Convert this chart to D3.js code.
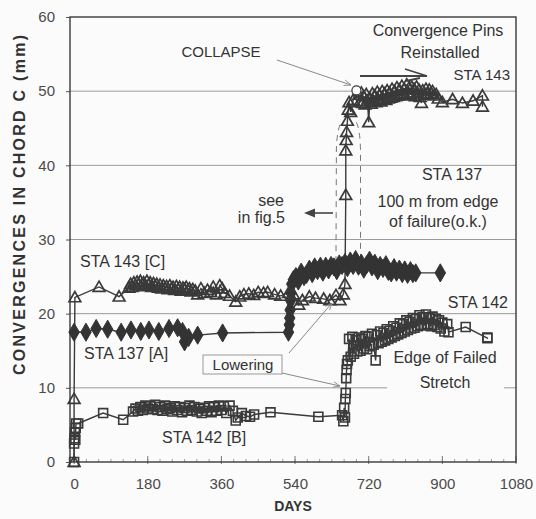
<!DOCTYPE html>
<html><head><meta charset="utf-8">
<script src="https://cdn.jsdelivr.net/npm/d3@7"></script>
<style>
body{margin:0;background:#fbfbfb}
svg{display:block}
text{font-family:"Liberation Sans",Arial,Helvetica,sans-serif}
</style>
</head><body><svg id="c" width="536" height="519"></svg>
<script>
// ---------- DATA ----------
const xTicks = [0, 180, 360, 540, 720, 900, 1080];
const yTicks = [0, 10, 20, 30, 40, 50, 60];

// STA 143 [C] (open triangles)
const sta143Days = [0,0,2,61,110,134,138,142,146,150,154,158,162,166,170,174,178,182,186,190,194,198,202,206,210,214,218,222,226,230,234,238,242,246,250,254,258,262,266,270,274,278,282,286,290,296,302,310,318,326,334,340,348,356,362,368,380,395,405,415,427,439,450,463,473,490,505,524,536,549,558,575,590,610,625,640,650,658,662,664,664,665,666,668,670,672,676,682,
  696,699,702,705,708,711,714,717,720,723,726,729,732,735,738,741,744,747,750,753,756,759,762,765,768,771,774,777,780,783,786,789,792,795,798,801,804,807,810,813,816,819,822,825,828,831,834,837,840,843,846,849,852,856,860,864,868,872,876,880,885,890,900,925,949,975,998,998];
const sta143Vals = [0,8.5,22.2,23.6,22.3,23.5,24.0,23.6,24.2,23.8,24.3,23.9,24.4,24.0,24.2,23.7,24.4,23.9,24.2,23.6,24.1,23.7,24.0,23.5,23.9,23.4,23.8,23.5,23.7,23.3,23.8,23.4,23.6,23.2,23.7,23.3,23.6,23.1,23.5,23.3,23.6,23.2,23.4,23.0,23.3,23.1,22.6,23.4,22.8,23.2,22.9,23.6,22.6,23.8,23.4,22.8,22.4,21.6,22.3,22.6,22.7,22.5,22.9,22.8,22.9,22.6,22.4,22.8,22.6,21.2,21.8,22.3,22.1,22.0,21.8,22.5,21.8,22.6,24.0,36.0,42.0,43.4,44.5,46.0,47.5,48.5,47.2,48.8,
  49.5,48.6,49.8,48.4,49.3,48.2,49.6,48.7,45.8,49.0,48.3,49.7,48.6,49.4,48.5,49.9,48.8,49.5,48.6,50.0,48.9,49.7,48.8,50.1,49.0,49.8,49.1,50.3,49.2,50.0,49.3,50.5,49.4,50.2,49.5,50.7,49.6,50.3,49.4,50.9,49.7,50.5,49.5,50.6,49.8,50.3,49.3,50.6,49.7,50.2,49.2,48.4,50.1,49.5,50.3,49.6,50.2,49.7,50.0,49.4,49.6,49.0,48.5,48.9,48.4,48.7,49.4,47.9];

// STA 137 [A] (filled diamonds)
const sta137Days = [0,29,54,82,115,139,163,183,207,232,253,265,270,280,302,363,524,526,527,528,529,530,532,536,542,548,555,562,568,575,582,588,595,602,608,615,622,628,635,642,648,655,662,668,675,682,688,695,702,708,715,722,728,735,742,748,755,762,768,775,782,788,795,802,808,815,822,828,835,895];
const sta137Vals = [17.5,17.5,18.0,17.9,17.5,17.8,17.6,17.8,17.6,18.0,18.1,17.6,16.2,16.8,17.1,17.4,17.5,18.5,19.4,20.5,21.8,22.8,24.0,24.6,25.0,24.4,25.6,25.0,25.3,26.0,25.4,26.3,25.8,26.4,25.6,26.4,25.9,26.5,26.3,25.8,26.7,26.5,26.9,26.2,27.1,26.5,27.3,26.4,26.8,26.0,26.6,27.2,26.3,26.8,25.8,26.5,26.1,26.6,25.7,25.5,26.2,25.6,26.0,25.4,25.9,25.3,25.8,25.4,25.5,25.5];

// STA 142 [B] (open squares)
const sta142Days = [0,0,1,2,3,4,5,10,71,120,144,150,156,162,168,174,180,186,192,198,204,210,216,222,228,234,240,246,252,258,264,270,276,282,288,294,300,306,312,318,324,330,336,342,348,354,360,366,372,380,388,395,400,410,420,430,440,480,597,655,658,660,662,663,664,665,666,667,669,
  672,676,680,684,688,692,696,700,704,708,712,716,720,724,728,732,737,740,744,748,752,756,760,764,768,772,776,780,784,788,792,796,800,804,808,812,816,820,824,828,832,836,840,844,848,852,856,860,864,868,872,876,880,884,888,892,896,900,905,912,915,957,1010,1010];
const sta142Vals = [0,2.5,3.2,4.0,3.0,4.6,5.2,5.2,6.6,5.7,6.8,7.2,6.9,7.4,7.0,7.6,7.2,7.5,7.1,7.7,7.0,7.4,6.9,7.6,7.1,7.3,6.8,7.5,7.0,7.4,6.7,7.3,6.9,7.6,7.0,7.4,6.8,7.2,6.6,7.3,6.9,7.5,6.7,7.4,6.9,7.6,7.0,7.5,6.6,7.6,6.9,5.6,6.0,6.6,6.2,6.1,6.4,6.7,6.1,6.3,5.5,7.3,6.0,8.5,9.3,11.3,12.4,13.2,13.7,
  16.6,14.2,16.9,14.6,16.4,14.9,16.8,15.0,16.6,15.3,17.0,15.2,16.9,15.6,17.3,15.8,13.7,17.1,16.0,17.6,16.2,17.4,16.4,17.9,16.6,17.7,16.8,18.3,17.0,18.1,17.2,18.7,17.4,18.6,17.6,19.1,17.8,18.9,18.0,19.4,18.1,19.3,18.3,19.8,18.5,19.5,18.4,19.9,18.6,19.4,18.3,19.6,18.5,19.3,18.2,19.1,18.0,18.8,17.6,18.6,17.5,18.2,16.7,16.8,17.0,17.8];

// Collapse point
const collapseDay = 690, collapseVal = 50.1;

// ---------- CHART ----------
const svg = d3.select("#c");
const W = 536, H = 519;
const bg = "#fbfbfb";
svg.append("rect").attr("width", W).attr("height", H).attr("fill", bg);
const L = 70, R = 516, T = 17, B = 462;
const x = d3.scaleLinear().domain([-10, 1080]).range([L, R]);
const y = d3.scaleLinear().domain([0, 60]).range([B, T]);
const ink = "#3a3a3a";

// gridlines
svg.append("g").selectAll("line").data(yTicks.filter(v => v > 0 && v < 60)).join("line")
  .attr("x1", L).attr("x2", R).attr("y1", d => y(d)).attr("y2", d => y(d))
  .attr("stroke", "#9a9a9a").attr("stroke-width", 1);

// dashed bracket lines
svg.append("path").attr("d", `M${x(650)},${y(45.5)} Q${x(640)},${y(44)} ${x(641)},${y(41)} L${x(640)},${y(26.5)}`)
  .attr("fill", "none").attr("stroke", "#777").attr("stroke-width", 1).attr("stroke-dasharray", "6,5");
svg.append("path").attr("d", `M${x(690)},${y(45.8)} Q${x(699)},${y(44.8)} ${x(700)},${y(42)} L${x(700)},${y(27.5)}`)
  .attr("fill", "none").attr("stroke", "#777").attr("stroke-width", 1).attr("stroke-dasharray", "6,5");

// axes
const xAxis = d3.axisBottom(x).tickValues(xTicks).tickSize(0).tickPadding(16).tickFormat(d3.format("d"));
const gx = svg.append("g").attr("transform", `translate(0,${B})`).call(xAxis);
gx.select(".domain").remove();
gx.selectAll("text").attr("font-size", 15).attr("fill", "#4a4a4a").attr("font-family", "Liberation Sans, Arial, sans-serif");
svg.append("g").selectAll("line").data(xTicks).join("line")
  .attr("x1", d => x(d)).attr("x2", d => x(d)).attr("y1", B - 6).attr("y2", B + 2)
  .attr("stroke", "#777").attr("stroke-width", 1);
svg.append("g").selectAll("line").data(d3.range(30, 1080, 30)).join("line")
  .attr("x1", d => x(d)).attr("x2", d => x(d)).attr("y1", B - 3).attr("y2", B)
  .attr("stroke", "#888").attr("stroke-width", 0.8);

const yAxis = d3.axisLeft(y).tickValues(yTicks).tickSize(4).tickPadding(11).tickFormat(d3.format("d"));
const gy = svg.append("g").attr("transform", `translate(${L},0)`).call(yAxis);
gy.select(".domain").remove();
gy.selectAll("line").attr("stroke", "#555");
gy.selectAll("text").attr("font-size", 15).attr("fill", "#4a4a4a").attr("font-family", "Liberation Sans, Arial, sans-serif");

// frame
svg.append("rect").attr("x", L).attr("y", T).attr("width", R - L).attr("height", B - T)
  .attr("fill", "none").attr("stroke", ink).attr("stroke-width", 1.4);

function series(days, vals) { return days.map((d, i) => [d, vals[i]]); }
const line = d3.line().x(d => x(d[0])).y(d => y(d[1]));

const s142 = series(sta142Days, sta142Vals);
const s137 = series(sta137Days, sta137Vals);
const s143 = series(sta143Days, sta143Vals);

[s142, s137, s143].forEach(s => {
  svg.append("path").datum(s).attr("d", line).attr("fill", "none").attr("stroke", ink).attr("stroke-width", 1.4);
});

// markers (open markers drawn unfilled, as in the scan)
svg.append("g").selectAll("path").data(s142).join("path")
  .attr("d", d3.symbol().type(d3.symbolSquare).size(80))
  .attr("transform", d => `translate(${x(d[0])},${y(d[1])})`)
  .attr("fill", "none").attr("stroke", ink).attr("stroke-width", 1.6);
svg.append("g").selectAll("path").data(s137).join("path")
  .attr("d", d3.symbol().type(d3.symbolDiamond).size(95))
  .attr("transform", d => `translate(${x(d[0])},${y(d[1])})`)
  .attr("fill", "#333").attr("stroke", "#333").attr("stroke-width", 1);
svg.append("g").selectAll("path").data(s143).join("path")
  .attr("d", d3.symbol().type(d3.symbolTriangle).size(60))
  .attr("transform", d => `translate(${x(d[0])},${y(d[1]) + 1})`)
  .attr("fill", "none").attr("stroke", ink).attr("stroke-width", 1.7);

// collapse circle
svg.append("circle").attr("cx", x(collapseDay)).attr("cy", y(collapseVal)).attr("r", 4.5)
  .attr("fill", bg).attr("stroke", ink).attr("stroke-width", 1.2);

// ---------- ANNOTATIONS ----------
const defs = svg.append("defs");
defs.append("marker").attr("id", "ah").attr("viewBox", "0 0 10 10").attr("refX", 10).attr("refY", 5)
  .attr("markerWidth", 7).attr("markerHeight", 7).attr("orient", "auto")
  .append("path").attr("d", "M0,1 L10,5 L0,9").attr("fill", "none").attr("stroke", "#888").attr("stroke-width", 1.2);

function txt(t, px, py, opts = {}) {
  return svg.append("text").attr("x", px).attr("y", py).text(t)
    .attr("font-size", opts.size || 16).attr("fill", opts.fill || "#333")
    .attr("text-anchor", opts.anchor || "start").attr("font-weight", opts.weight || "normal");
}

txt("COLLAPSE", 221, 57, { size: 15, anchor: "middle" });
svg.append("line").attr("x1", 277).attr("y1", 60).attr("x2", 351).attr("y2", 85)
  .attr("stroke", "#888").attr("stroke-width", 1).attr("marker-end", "url(#ah)");

txt("Convergence Pins", 438, 36, { anchor: "middle" });
txt("Reinstalled", 440, 58, { anchor: "middle" });
svg.append("path").attr("d", "M360,76 L427,76 M405,69 L427,76 M406,81 L420,78")
  .attr("fill", "none").attr("stroke", "#444").attr("stroke-width", 1.8);
txt("STA 143", 510, 80, { size: 15, anchor: "end" });

txt("STA 137", 452, 180, { anchor: "middle" });
txt("100 m from edge", 438, 207, { anchor: "middle" });
txt("of failure(o.k.)", 438, 227, { anchor: "middle" });

txt("see", 284, 206, { anchor: "end" });
txt("in fig.5", 285, 223, { anchor: "end" });
svg.append("line").attr("x1", 333).attr("y1", 213).attr("x2", 313).attr("y2", 213).attr("stroke", "#444").attr("stroke-width", 1.6);
svg.append("path").attr("d", "M304,213 L315,208.5 L315,217.5 Z").attr("fill", "#444");

txt("STA 143 [C]", 80, 267);
txt("STA 137 [A]", 84, 359);
txt("STA 142 [B]", 162, 443);
txt("STA 142", 508, 308, { anchor: "end" });

svg.append("rect").attr("x", 387).attr("y", 372).attr("width", 117).attr("height", 22).attr("fill", bg);
txt("Edge of Failed", 445, 363, { anchor: "middle" });
txt("Stretch", 445, 388, { anchor: "middle" });

svg.append("line").attr("x1", 289).attr("y1", 353).attr("x2", 332).attr("y2", 303)
  .attr("stroke", "#888").attr("stroke-width", 1).attr("marker-end", "url(#ah)");
svg.append("line").attr("x1", 282).attr("y1", 373).attr("x2", 340).attr("y2", 386)
  .attr("stroke", "#888").attr("stroke-width", 1).attr("marker-end", "url(#ah)");
svg.append("rect").attr("x", 203).attr("y", 355).attr("width", 79).attr("height", 19)
  .attr("fill", bg).attr("stroke", "#999").attr("stroke-width", 1);
txt("Lowering", 243, 370, { size: 15, anchor: "middle" });

svg.append("text").attr("transform", "translate(25,205) rotate(-90)").attr("text-anchor", "middle")
  .attr("font-size", 16).attr("font-weight", "bold").attr("fill", "#333")
  .attr("textLength", 340).attr("lengthAdjust", "spacing")
  .text("CONVERGENCES IN CHORD C (mm)");
txt("DAYS", 293, 511, { size: 14, weight: "bold", anchor: "middle" });
</script>
</body></html>
